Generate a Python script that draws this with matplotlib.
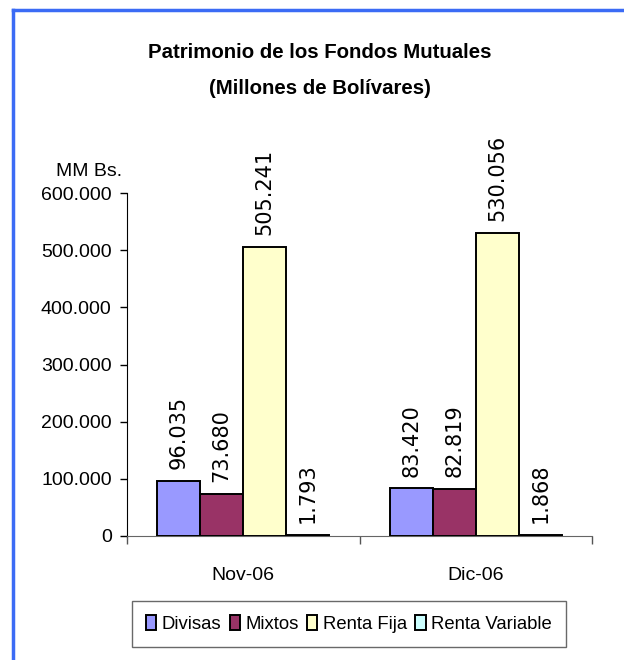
import matplotlib
matplotlib.use("Agg")
import matplotlib.pyplot as plt
from matplotlib.lines import Line2D
import numpy as np

categories = ["Nov-06", "Dic-06"]
series_names = ["Divisas", "Mixtos", "Renta Fija", "Renta Variable"]
divisas = [96035, 83420]
mixtos = [73680, 82819]
renta_fija = [505241, 530056]
renta_variable = [1793, 1868]
value_labels = [["96.035", "83.420"], ["73.680", "82.819"],
                ["505.241", "530.056"], ["1.793", "1.868"]]
yticks = [0, 100000, 200000, 300000, 400000, 500000, 600000]
ytick_labels = ["0", "100.000", "200.000", "300.000", "400.000", "500.000", "600.000"]
colors = ["#9999FF", "#993366", "#FFFFCC", "#CCFFFF"]

main_font = "Liberation Sans"
label_font = "DejaVu Sans"

fig = plt.figure(figsize=(6.24, 6.6), dpi=100)
ax = fig.add_axes([127/624, 1-536/660, (592-127)/624, (536-193)/660])

series = [divisas, mixtos, renta_fija, renta_variable]
x = np.arange(len(categories))
w = 0.185
for i, (vals, c) in enumerate(zip(series, colors)):
    pos = x + (i - 1.5) * w
    ax.bar(pos, vals, width=w, color=c, edgecolor="black", linewidth=1.4, zorder=3,
           label=series_names[i])
    for xp, v, lab in zip(pos, vals, value_labels[i]):
        ax.annotate(lab, (xp, v), xytext=(0, 8.5), textcoords="offset points",
                    rotation=90, ha="center", va="bottom", fontsize=15,
                    family=label_font, color="black")

ax.set_xlim(-0.5, 1.5)
ax.set_ylim(0, 600000)
ax.set_yticks(yticks)
ax.set_yticklabels(ytick_labels, family=main_font, fontsize=14)
ax.set_xticks([-0.5, 0.5, 1.5])
ax.set_xticklabels([])
ax.set_xticks(x, minor=True)
ax.set_xticklabels(categories, minor=True, family=main_font, fontsize=14)
ax.tick_params(axis="x", which="minor", length=0, pad=22)
ax.tick_params(axis="x", which="major", length=6, width=1, direction="out", color="#555555")
ax.tick_params(axis="y", length=5, width=1, direction="out", pad=6)
for s in ["top", "right"]:
    ax.spines[s].set_visible(False)
ax.spines["left"].set_color("black")
ax.spines["bottom"].set_color("#666666")

fig.text(320/624, 1-52/660, "Patrimonio de los Fondos Mutuales", ha="center", va="center",
         family=main_font, fontsize=14.7, fontweight="bold")
fig.text(320/624, 1-88/660, "(Millones de Bolívares)", ha="center", va="center",
         family=main_font, fontsize=14.7, fontweight="bold")
fig.text(89/624, 1-172/660, "MM Bs.", ha="center", va="center", family=main_font, fontsize=14)

leg = fig.legend(loc="center", bbox_to_anchor=(349/624, 1-624/660), ncol=4,
                 prop={"family": main_font, "size": 13.3}, frameon=True, fancybox=False,
                 handlelength=0.55, handleheight=0.85, handletextpad=0.3,
                 columnspacing=0.45, borderpad=0.75, borderaxespad=0.3, edgecolor="#444444")
leg.get_frame().set_linewidth(1.0)

# blue frame (top and left)
fig.add_artist(Line2D([13/624, 13/624], [0, 1-10/660], transform=fig.transFigure,
                      color="#3B6BF5", linewidth=2.5))
fig.add_artist(Line2D([13/624, 1], [1-10/660, 1-10/660], transform=fig.transFigure,
                      color="#3B6BF5", linewidth=2.5))

fig.savefig("out.png", dpi=100)
